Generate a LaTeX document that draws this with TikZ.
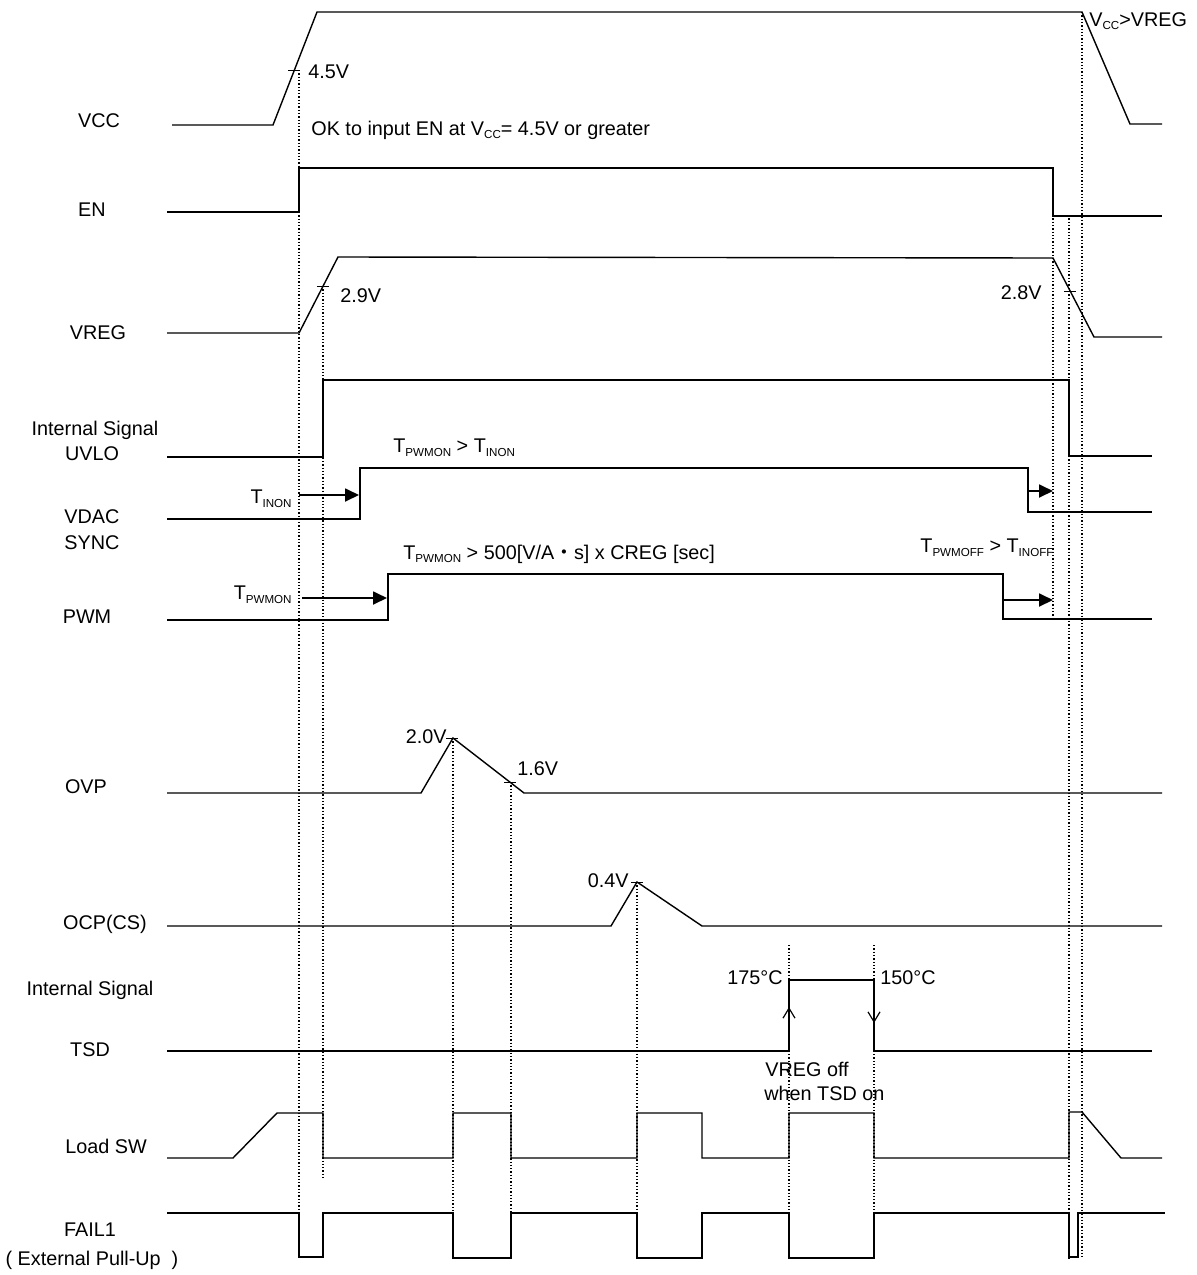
\documentclass[tikz,border=0pt]{standalone}
\usepackage{fontspec}
\setmainfont{Liberation Sans}
\newfontfamily\cjk{Noto Sans CJK JP}
\usetikzlibrary{arrows.meta}
\newcommand{\lsub}[1]{\raisebox{-0.35ex}{\fontsize{5.8}{6}\selectfont #1}}
\tikzset{
  wave/.style={line width=0.7pt, line join=miter},
  guide/.style={densely dotted, line width=0.65pt},
  tag/.style={inner sep=0pt, font=\fontsize{9.9}{11.8}\selectfont},
  delay/.style={line width=0.9pt, -{Triangle[length=7pt,width=6.5pt]}},
  edgemark/.style={line width=0.6pt, -{Straight Barb[length=5pt,width=6pt]}},
}
\begin{document}
\begin{tikzpicture}[x=0.5pt,y=-0.5pt]
\useasboundingbox (0,0) rectangle (1197,1275);

% signal names
\foreach \x/\y/\name/\txt in {99/121/vcc/VCC, 92/210/en/EN, 98/333/vreg/VREG,
    95/430/int1/Internal Signal, 92/454/uvlo/UVLO, 92/517/vdac/VDAC,
    92/543/sync/SYNC, 87/617/pwm/PWM, 86/787/ovp/OVP, 105/924/ocp/{OCP(CS)},
    90/990/int2/Internal Signal, 90/1050/tsd/TSD, 106/1146/load/Load SW,
    90/1230/fail/FAIL1, 92/1260/pull/{( External Pull-Up\ \ )}}
  \node[tag] (sig\name) at (\x,\y) {\txt};

% guide lines
\foreach \x/\ya/\yb in {299/70/1257, 323/286/1178, 453/738/1258, 511/782/1258,
    637/882/1258, 789/945/1258, 874/945/1258, 1053/215/618, 1069/215/1258,
    1082/12/1258}
  \draw[guide] (\x,\ya) -- (\x,\yb);

% waveforms
\draw[wave] (172,125) -- (273,125) -- (317,12) -- (1082,12) -- (1130,124) -- (1162,124);
\draw[wave] (167,212) -- (299,212) -- (299,168) -- (1053,168) -- (1053,216) -- (1162,216);
\draw[wave] (167,333) -- (299,333) -- (338,257) -- (1053,258) -- (1094,337) -- (1162,337);
\draw[wave] (167,457) -- (323,457) -- (323,380) -- (1069,380) -- (1069,456) -- (1152,456);
\draw[wave] (167,519) -- (360,519) -- (360,468) -- (1028,468) -- (1028,512) -- (1152,512);
\draw[wave] (167,620) -- (388,620) -- (388,574) -- (1003,574) -- (1003,619) -- (1152,619);
\draw[wave] (167,793) -- (421,793) -- (453,738) -- (524,793) -- (1162,793);
\draw[wave] (167,926) -- (611,926) -- (637,882) -- (702,926) -- (1162,926);
\draw[wave] (167,1051) -- (789,1051) -- (789,980) -- (874,980) -- (874,1051) -- (1152,1051);
\draw[wave] (167,1158) -- (233,1158) -- (277,1113) -- (323,1113) -- (323,1158)
  -- (453,1158) -- (453,1113) -- (511,1113) -- (511,1158)
  -- (637,1158) -- (637,1113) -- (702,1113) -- (702,1158)
  -- (789,1158) -- (789,1113) -- (874,1113) -- (874,1158)
  -- (1069,1158) -- (1069,1112) -- (1082,1112) -- (1121,1158) -- (1162,1158);
\draw[wave] (167,1213) -- (299,1213) -- (299,1257) -- (323,1257) -- (323,1213)
  -- (453,1213) -- (453,1258) -- (511,1258) -- (511,1213)
  -- (637,1213) -- (637,1258) -- (702,1258) -- (702,1213)
  -- (789,1213) -- (789,1258) -- (874,1258) -- (874,1213)
  -- (1069,1213) -- (1069,1257) -- (1078,1257) -- (1078,1213) -- (1165,1213);

% threshold ticks
\foreach \x/\y in {294/70, 323/286, 1070/291, 452/738, 510/782, 637/882}
  \draw[line width=0.5pt] (\x-6,\y) -- (\x+6,\y);

% delay arrows
\coordinate (inonS) at (299,495);   \coordinate (inonE) at (359,495);
\coordinate (pwmonS) at (302,598);  \coordinate (pwmonE) at (387,598);
\coordinate (inoffS) at (1028,491); \coordinate (inoffE) at (1053,491);
\coordinate (pwmoffS) at (1003,600);\coordinate (pwmoffE) at (1053,600);
\draw[delay] (inonS) -- (inonE);
\draw[delay] (pwmonS) -- (pwmonE);
\draw[delay] (inoffS) -- (inoffE);
\draw[delay] (pwmoffS) -- (pwmoffE);

% TSD edges
\coordinate (tsdUpS) at (789,1040); \coordinate (tsdUpE) at (789,1007);
\coordinate (tsdDnS) at (874,990);  \coordinate (tsdDnE) at (874,1023);
\draw[edgemark] (tsdUpS) -- (tsdUpE);
\draw[edgemark] (tsdDnS) -- (tsdDnE);

% annotations
\node[tag, anchor=west] (v45) at (308,72) {4.5V};
\node[tag, anchor=west] (okEN) at (311,130) {OK to input EN at V\lsub{CC}= 4.5V or greater};
\node[tag, anchor=west] (vccreg) at (1089,21) {V\lsub{CC}>VREG};
\node[tag, anchor=west] (v29) at (340,296) {2.9V};
\node[tag, anchor=east] (v28) at (1042,293) {2.8V};
\node[tag, anchor=west] (onrule) at (393,448) {T\lsub{PWMON} > T\lsub{INON}};
\node[tag, anchor=east] (tinon) at (292,499) {T\lsub{INON}};
\node[tag, anchor=east] (tpwmon) at (292,595) {T\lsub{PWMON}};
\node[tag, anchor=west] (cregrule) at (403,554) {T\lsub{PWMON} > 500[V/A{\cjk ・}s] x CREG [sec]};
\node[tag, anchor=west] (offrule) at (920,548) {T\lsub{PWMOFF} > T\lsub{INOFF}};
\node[tag, anchor=east] (v20) at (447,737) {2.0V};
\node[tag, anchor=west] (v16) at (517,769) {1.6V};
\node[tag, anchor=east] (v04) at (629,881) {0.4V};
\node[tag, anchor=east] (t175) at (783,978) {175°C};
\node[tag, anchor=west] (t150) at (880,978) {150°C};
\node[tag, anchor=west] (vregoff) at (765,1069) {VREG off};
\node[tag, anchor=west] (tsdon) at (764,1093) {when TSD on};
\end{tikzpicture}
\end{document}
